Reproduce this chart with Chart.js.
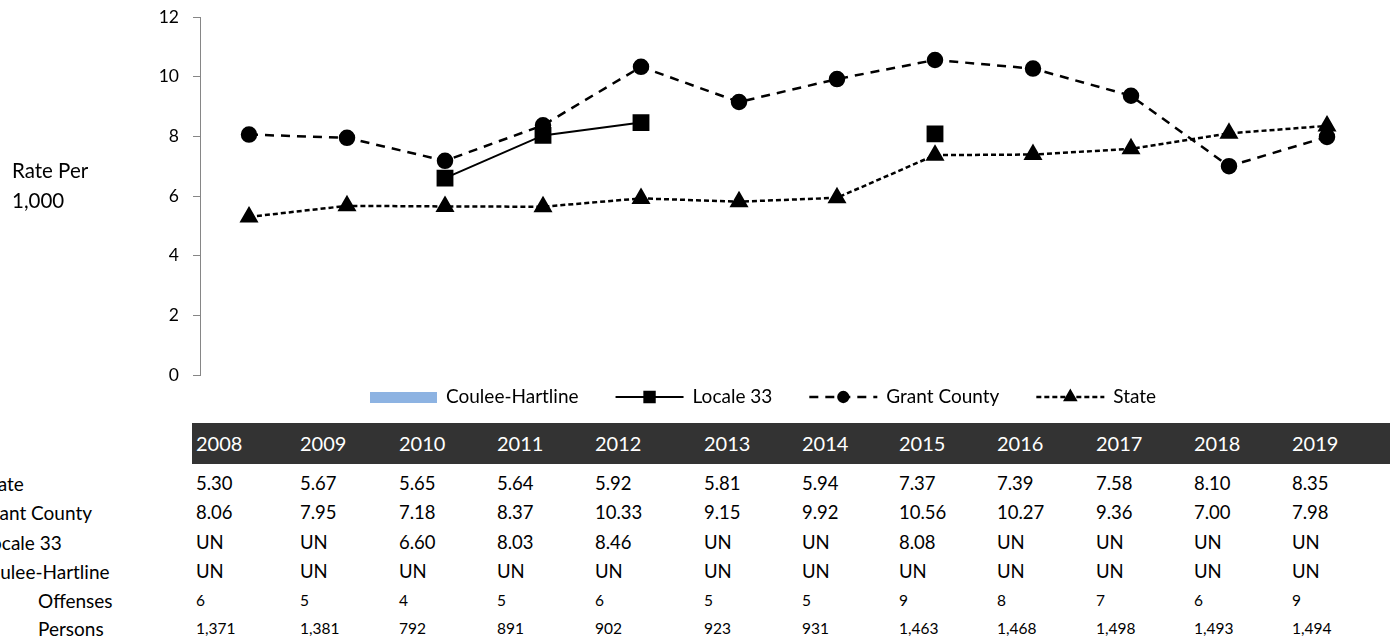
<!DOCTYPE html>
<html>
<head>
<meta charset="utf-8">
<script src="https://cdn.jsdelivr.net/npm/chart.js@4"></script>
<style>
  html, body { margin: 0; padding: 0; background: #fff; }
  body { width: 1396px; height: 641px; position: relative; overflow: hidden; font-family: Lato, "Open Sans", sans-serif; color: #000; }
  #rateChart { position: absolute; left: 0; top: 0; }
  .yTitle { position: absolute; left: 12px; top: 155px; font-size: 20.5px; line-height: 30px; }
  .band { position: absolute; left: 192px; top: 423px; width: 1198px; height: 41px; background: #333333; }
  .cell { position: absolute; white-space: nowrap; transform: translateY(-50%); }
  .hdr { color: #fff; font-size: 20px; }
  .val { font-size: 18.5px; }
  .small { font-size: 15.5px; }
  .lbl { font-size: 19px; }
</style>
</head>
<body>
<canvas id="rateChart" width="1396" height="420"></canvas>
<div class="yTitle">Rate Per<br>1,000</div>
<div class="band"></div>
<div id="table"></div>

<script>
var years = ['2008', '2009', '2010', '2011', '2012', '2013', '2014', '2015', '2016', '2017', '2018', '2019'];

// null = UN (unavailable)
var stateRate = [5.30, 5.67, 5.65, 5.64, 5.92, 5.81, 5.94, 7.37, 7.39, 7.58, 8.10, 8.35];
var grantRate = [8.06, 7.95, 7.18, 8.37, 10.33, 9.15, 9.92, 10.56, 10.27, 9.36, 7.00, 7.98];
var localeRate = [null, null, 6.60, 8.03, 8.46, null, null, 8.08, null, null, null, null];
var couleeRate = [null, null, null, null, null, null, null, null, null, null, null, null];
var couleeOffenses = [6, 5, 4, 5, 6, 5, 5, 9, 8, 7, 6, 9];
var couleePersons = [1371, 1381, 792, 891, 902, 923, 931, 1463, 1468, 1498, 1493, 1494];

var yTicks = [0, 2, 4, 6, 8, 10, 12];

// table column x positions
var colLeft = [196, 300, 399, 497, 595, 704, 802, 899, 997, 1096, 1194, 1292];

function fmtRate(v) { return v === null ? 'UN' : v.toFixed(2); }
function fmtInt(v) { return v.toLocaleString('en-US'); }

// data table under the chart
var rows = [
    { label: 'State', values: stateRate.map(fmtRate), y: 483, x: -19, cls: 'val' },
    { label: 'Grant County', values: grantRate.map(fmtRate), y: 512, x: -21, cls: 'val' },
    { label: 'Locale 33', values: localeRate.map(fmtRate), y: 542, x: -18, cls: 'val' },
    { label: 'Coulee-Hartline', values: couleeRate.map(fmtRate), y: 571, x: -23, cls: 'val' },
    { label: 'Offenses', values: couleeOffenses.map(fmtInt), y: 600, x: 38, cls: 'small' },
    { label: 'Persons', values: couleePersons.map(fmtInt), y: 628, x: 38, cls: 'small' }
];

var html = '';
years.forEach(function(yr, i) {
    html += '<div class="cell hdr" style="left:' + colLeft[i] + 'px;top:443px">' + yr + '</div>';
});
rows.forEach(function(r) {
    html += '<div class="cell lbl" style="left:' + r.x + 'px;top:' + r.y + 'px">' + r.label + '</div>';
    r.values.forEach(function(v, i) {
        html += '<div class="cell ' + r.cls + '" style="left:' + colLeft[i] + 'px;top:' + r.y + 'px">' + v + '</div>';
    });
});
document.getElementById('table').innerHTML = html;

// legend drawn as line + marker samples like the series
var sampleLegend = {
    id: 'sampleLegend',
    afterDraw: function(chart) {
        var ctx = chart.ctx;
        var y = 397;
        var x = 370;
        ctx.save();
        ctx.font = '19px Lato, "Open Sans", sans-serif';
        ctx.textBaseline = 'middle';
        chart.data.datasets.forEach(function(ds) {
            if (ds.type === 'bar') {
                ctx.fillStyle = ds.backgroundColor;
                ctx.fillRect(x, y - 5, 67, 11);
                x += 76;
            } else {
                ctx.strokeStyle = ds.borderColor;
                ctx.lineWidth = ds.borderWidth;
                ctx.setLineDash(ds.borderDash || []);
                ctx.beginPath();
                ctx.moveTo(x, y);
                ctx.lineTo(x + 68, y);
                ctx.stroke();
                ctx.setLineDash([]);
                Chart.helpers.drawPoint(ctx, {
                    pointStyle: ds.pointStyle,
                    radius: ds.pointRadius * 0.7,
                    borderWidth: 1
                }, x + 34, y);
                ctx.fillStyle = '#000';
                ctx.fill();
                x += 77;
            }
            ctx.fillStyle = '#000';
            ctx.fillText(ds.label, x, y);
            x += ctx.measureText(ds.label).width + 37;
        });
        ctx.restore();
    }
};

var ctx = document.getElementById('rateChart').getContext('2d');
var rateChart = new Chart(ctx, {
    data: {
        labels: years,
        datasets: [{
            type: 'bar',
            label: 'Coulee-Hartline',
            data: couleeRate,
            backgroundColor: '#8db3e2'
        }, {
            type: 'line',
            label: 'Locale 33',
            data: localeRate,
            borderColor: '#000',
            borderWidth: 2,
            pointStyle: 'rect',
            pointRadius: 10.5,
            pointBackgroundColor: '#000',
            pointBorderColor: '#000',
            spanGaps: false
        }, {
            type: 'line',
            label: 'Grant County',
            data: grantRate,
            borderColor: '#000',
            borderWidth: 2.5,
            borderDash: [9, 7],
            pointStyle: 'circle',
            pointRadius: 7,
            pointBackgroundColor: '#000',
            pointBorderColor: '#000'
        }, {
            type: 'line',
            label: 'State',
            data: stateRate,
            borderColor: '#000',
            borderWidth: 2.5,
            borderDash: [5, 3],
            pointStyle: 'triangle',
            pointRadius: 8.5,
            pointBackgroundColor: '#000',
            pointBorderColor: '#000'
        }]
    },
    options: {
        responsive: false,
        animation: false,
        devicePixelRatio: 1,
        layout: {
            padding: { left: 0, right: 20, top: 17, bottom: 45 }
        },
        plugins: {
            legend: { display: false },
            tooltip: { enabled: false }
        },
        scales: {
            x: {
                display: false,
                offset: true
            },
            y: {
                min: 0,
                max: 12,
                afterBuildTicks: function(scale) {
                    scale.ticks = yTicks.map(function(v) { return { value: v }; });
                },
                afterFit: function(scale) {
                    // fixed axis width, let the outer padding set the plot's top
                    scale.width = 200;
                    scale.paddingTop = 0;
                    scale.paddingBottom = 0;
                },
                border: { display: true, color: '#868686', width: 1 },
                grid: {
                    drawOnChartArea: false,
                    drawTicks: true,
                    tickLength: 7,
                    color: '#868686'
                },
                ticks: {
                    color: '#000',
                    padding: 14,
                    font: { size: 17.5, family: 'Lato, "Open Sans", sans-serif' }
                }
            }
        }
    },
    plugins: [sampleLegend]
});
</script>
</body>
</html>
